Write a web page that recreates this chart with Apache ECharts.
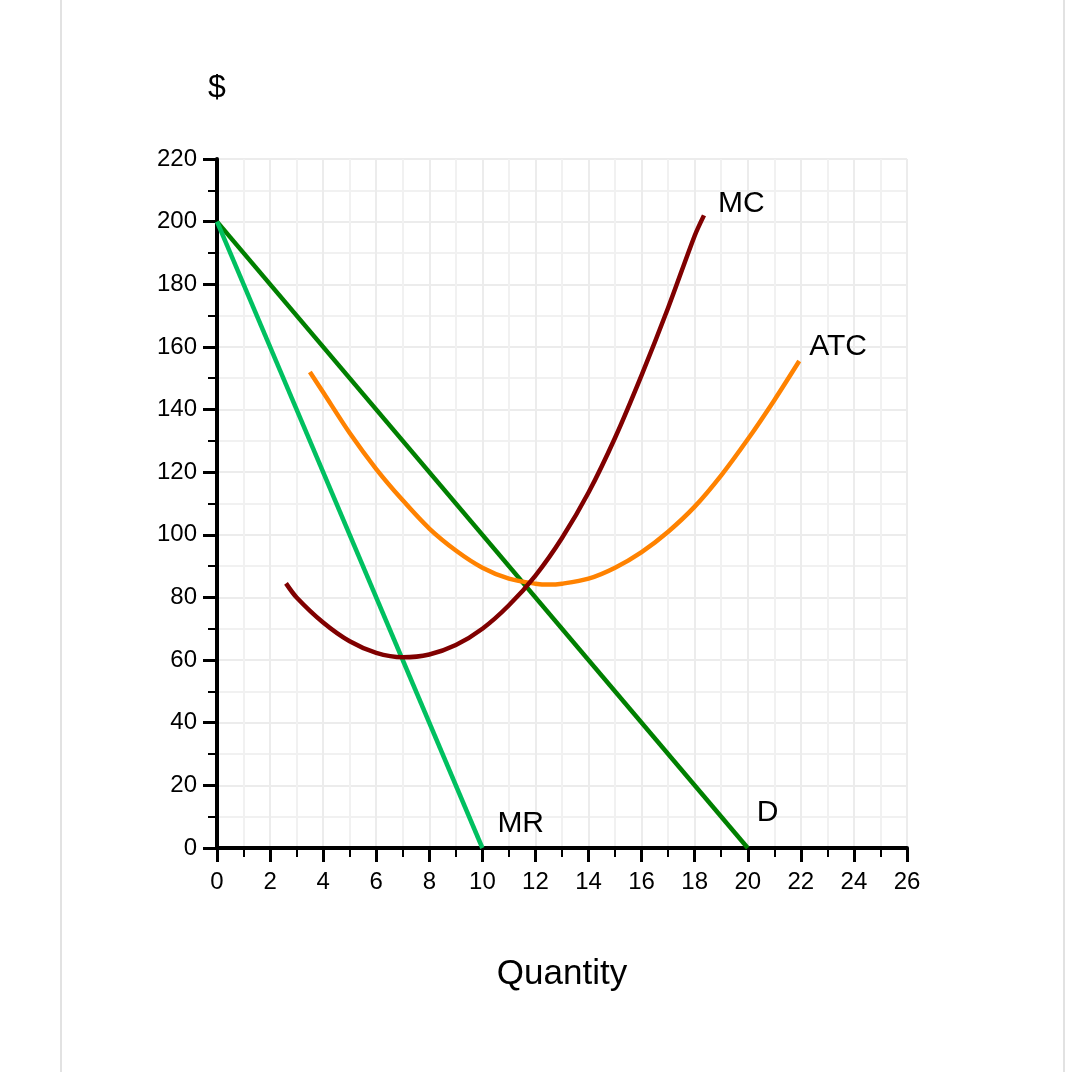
<!DOCTYPE html>
<html>
<head>
<meta charset="utf-8">
<script src="https://cdn.jsdelivr.net/npm/echarts@6/dist/echarts.min.js"></script>
<style>
  html, body { margin: 0; padding: 0; background: #fff; }
  #frame { position: absolute; left: 60px; top: 0; width: 1001px; height: 1072px;
           border-left: 2px solid #e2e2e2; border-right: 2px solid #e2e2e2; }
  #chart { position: absolute; left: 0; top: 0; width: 1083px; height: 1072px; }
</style>
</head>
<body>
<div id="frame"></div>
<div id="chart"></div>
<script>
// ---- data ----
const demandQ = [0, 20];
const demandP = [200, 0];
const mrQ = [0, 10];
const mrP = [200, 0];
const mcQ = [2.6, 3, 4, 5, 6, 7, 8, 9, 10, 11, 12, 13, 14, 15, 16, 17, 18, 18.35];
const mcP = [84.5, 80, 72, 66, 62.3, 60.9, 61.8, 64.8, 70, 77.5, 87, 99, 113.5, 131, 151, 172.5, 195.5, 202];
const atcQ = [3.5, 4, 5, 6, 7, 8, 9, 10, 11, 12, 12.5, 13, 14, 15, 16, 17, 18, 19, 20, 21, 21.94];
const atcP = [152, 145.5, 132.5, 121, 111, 102, 95, 89.5, 86, 84.4, 84.1, 84.4, 86, 89.5, 94.5, 101, 109, 119, 130.5, 143, 155.5];
const seriesNames = ['D', 'MR', 'ATC', 'MC'];
const xAxisTitle = 'Quantity';
const yAxisTitle = '$';

const pair = (xs, ys) => xs.map((x, i) => [x, ys[i]]);
const FONT = '"Liberation Sans", Arial, sans-serif';

function curve(name, data, color, smooth, offset) {
  return {
    name, type: 'line', data, smooth,
    showSymbol: false, symbol: 'none', clip: false,
    lineStyle: { color, width: 4.5 },
    endLabel: { show: true, formatter: name, distance: 0, offset,
      align: 'left', verticalAlign: 'middle',
      fontFamily: FONT, fontSize: 30, color: '#000' },
    z: 3
  };
}

const chart = echarts.init(document.getElementById('chart'), null, { renderer: 'canvas' });
chart.setOption({
  animation: false,
  backgroundColor: 'transparent',
  grid: { left: 217, right: 176, top: 159, bottom: 224, containLabel: false },
  xAxis: {
    type: 'value', min: 0, max: 26, interval: 2,
    name: xAxisTitle, nameLocation: 'middle', nameGap: 109,
    nameTextStyle: { fontFamily: FONT, fontSize: 35, color: '#000' },
    axisLine: { show: true, onZero: false, lineStyle: { color: '#000', width: 4 } },
    axisTick: { show: true, length: 14, lineStyle: { color: '#000', width: 3 } },
    minorTick: { show: true, splitNumber: 2, length: 9, lineStyle: { color: '#000', width: 2 } },
    axisLabel: { margin: 22, fontFamily: FONT, fontSize: 24, color: '#000' },
    splitLine: { show: true, lineStyle: { color: '#ececec', width: 2 } },
    minorSplitLine: { show: true, lineStyle: { color: '#f1f1f1', width: 2 } }
  },
  yAxis: {
    type: 'value', min: 0, max: 220, interval: 20,
    name: yAxisTitle, nameLocation: 'end', nameGap: 55,
    nameTextStyle: { fontFamily: FONT, fontSize: 32, color: '#000', align: 'center' },
    axisLine: { show: true, onZero: false, lineStyle: { color: '#000', width: 4 } },
    axisTick: { show: true, length: 14, lineStyle: { color: '#000', width: 3 } },
    minorTick: { show: true, splitNumber: 2, length: 9, lineStyle: { color: '#000', width: 2 } },
    axisLabel: { margin: 20, fontFamily: FONT, fontSize: 24, color: '#000' },
    splitLine: { show: true, lineStyle: { color: '#ececec', width: 2 } },
    minorSplitLine: { show: true, lineStyle: { color: '#f1f1f1', width: 2 } }
  },
  series: [
    curve(seriesNames[0], pair(demandQ, demandP), '#008000', false, [9, -35]),
    curve(seriesNames[1], pair(mrQ, mrP), '#00c060', false, [15, -24]),
    curve(seriesNames[2], pair(atcQ, atcP), '#ff8200', 0.3, [10, -14]),
    curve(seriesNames[3], pair(mcQ, mcP), '#800000', 0.3, [14, -12])
  ]
});
</script>
</body>
</html>
